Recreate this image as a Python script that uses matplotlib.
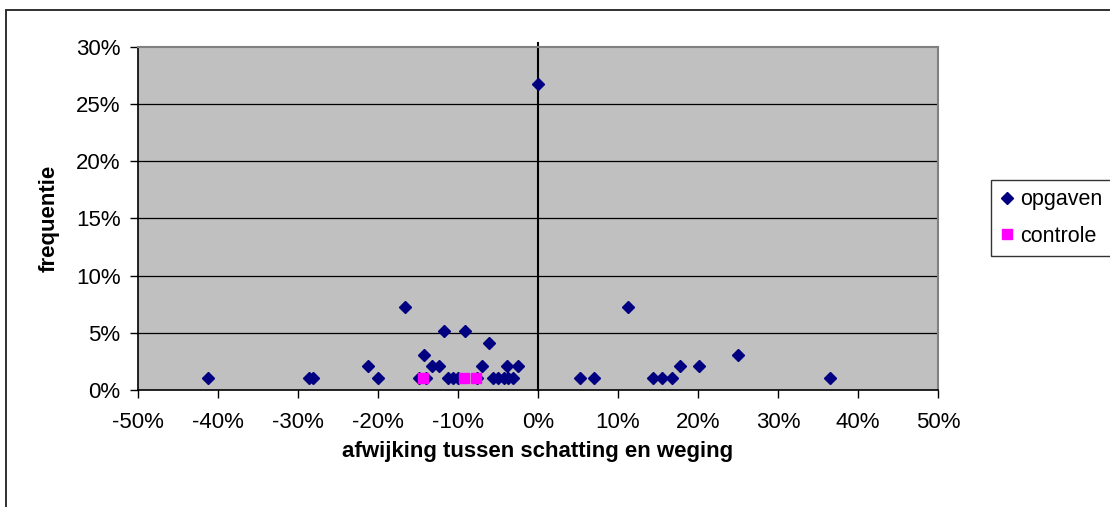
import matplotlib
matplotlib.use("Agg")
import matplotlib.pyplot as plt
from matplotlib.patches import Rectangle
from matplotlib.ticker import FuncFormatter

plt.rcParams['font.family'] = ['Liberation Sans', 'DejaVu Sans']

# deviation between estimate and weighing (%), and number of answers (of 97)
total = 97
opgaven_x = [-41.2, -28.6, -28.1, -21.2, -20.0, -16.6, -14.9, -14.3, -14.0, -13.2,
             -12.4, -11.8, -11.2, -10.6, -10.0, -9.1, -7.6, -7.0, -6.1, -5.6,
             -5.0, -4.3, -3.9, -3.7, -3.1, -2.5, 0.0, 5.25, 7.0, 11.2,
             14.4, 15.5, 16.75, 17.8, 20.1, 25.0, 36.5]
opgaven_n = [1, 1, 1, 2, 1, 7, 1, 3, 1, 2,
             2, 5, 1, 1, 1, 5, 1, 2, 4, 1,
             1, 1, 2, 1, 1, 2, 26, 1, 1, 7,
             1, 1, 1, 2, 2, 3, 1]
controle_x = [-14.4, -9.25, -7.7]
controle_n = [1, 1, 1]

x_ticks = [-50, -40, -30, -20, -10, 0, 10, 20, 30, 40, 50]
y_ticks = [0, 5, 10, 15, 20, 25, 30]

fig = plt.figure(figsize=(11.1, 5.07), dpi=100)
ax = fig.add_axes([138 / 1110, 1 - 390 / 507, 800 / 1110, 343 / 507])
ax.set_facecolor('#c0c0c0')

ox = [v / 100 for v in opgaven_x]
oy = [n / total for n in opgaven_n]
cx = [v / 100 for v in controle_x]
cy = [n / total for n in controle_n]

# gridlines
for t in y_ticks[1:-1]:
    ax.axhline(t / 100, color='black', lw=0.9, zorder=1)
ax.axvline(0, ymin=0, ymax=1.012, color='black', lw=1.5, clip_on=False, zorder=2)

ax.plot(ox, oy, 'D', color='#000080', ms=6.6, mec='#000080', ls='none',
        label='opgaven', zorder=3)
ax.plot(cx, cy, 's', color='#ff00ff', ms=7.4, mec='#ff00ff', ls='none',
        label='controle', zorder=4)

ax.set_xlim(-0.5, 0.5)
ax.set_ylim(0, 0.3)
ax.set_xticks([t / 100 for t in x_ticks])
ax.set_yticks([t / 100 for t in y_ticks])
pct = FuncFormatter(lambda v, p: f"{v * 100:.0f}%")
ax.xaxis.set_major_formatter(pct)
ax.yaxis.set_major_formatter(pct)
ax.tick_params(axis='both', direction='out', length=5.5, width=1, color='black',
               labelsize=16)
ax.tick_params(axis='x', pad=10)
ax.tick_params(axis='y', pad=7)

for s in ['top', 'right']:
    ax.spines[s].set_color('#808080')
    ax.spines[s].set_linewidth(1.5)
for s in ['left', 'bottom']:
    ax.spines[s].set_color('black')
    ax.spines[s].set_linewidth(1.2)

ax.set_xlabel('afwijking tussen schatting en weging', fontsize=16,
              fontweight='bold', labelpad=6)
ax.set_ylabel('frequentie', fontsize=16, fontweight='bold', labelpad=12)

leg = fig.legend(loc='upper left', bbox_to_anchor=(991 / 1110, 1 - 180 / 507),
                 fontsize=15.5, frameon=True, fancybox=False, edgecolor='black',
                 borderaxespad=0, handlelength=0.6, handletextpad=0.34,
                 borderpad=0.43, labelspacing=0.72, markerscale=1.0)
leg.get_frame().set_linewidth(1.0)

# outer chart border
fig.patches.append(Rectangle((6 / 1110, -0.2), 1.2, 1.2 - 10 / 507,
                             transform=fig.transFigure, fill=False,
                             edgecolor='#202020', lw=1.3))

fig.savefig('out.png', dpi=100)
